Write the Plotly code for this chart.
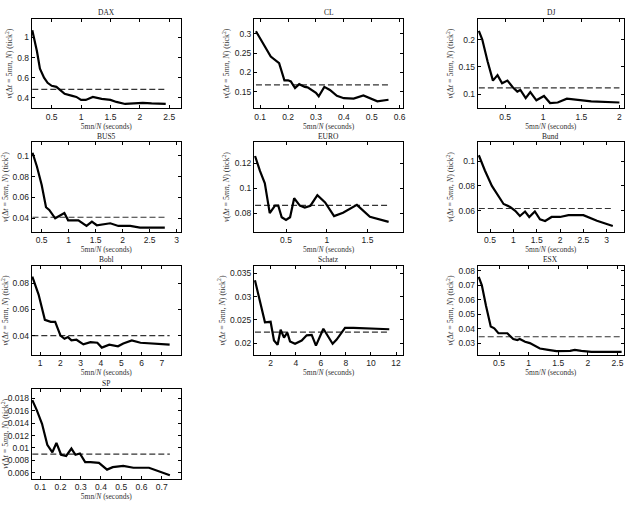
import plotly.graph_objects as go

# ---------------- data ----------------
dax_x = [0.17, 0.25, 0.30, 0.37, 0.43, 0.50, 0.58, 0.62, 0.72, 0.85, 0.92, 1.00, 1.08, 1.20, 1.35, 1.50, 1.60, 1.75, 1.90, 2.05, 2.20, 2.44]
dax_y = [1.07, 0.86, 0.69, 0.60, 0.55, 0.52, 0.51, 0.49, 0.44, 0.42, 0.41, 0.38, 0.38, 0.41, 0.39, 0.38, 0.36, 0.34, 0.345, 0.35, 0.345, 0.34]
dax_ref = 0.485

cl_x = [0.085, 0.10, 0.12, 0.138, 0.168, 0.187, 0.20, 0.21, 0.225, 0.24, 0.26, 0.27, 0.30, 0.31, 0.33, 0.35, 0.375, 0.40, 0.435, 0.47, 0.52, 0.56]
cl_y = [0.306, 0.287, 0.26, 0.241, 0.224, 0.18, 0.18, 0.177, 0.16, 0.17, 0.163, 0.162, 0.148, 0.139, 0.163, 0.155, 0.14, 0.134, 0.133, 0.141, 0.126, 0.13]
cl_ref = 0.168

dj_x = [0.155, 0.20, 0.27, 0.34, 0.40, 0.46, 0.53, 0.60, 0.66, 0.70, 0.77, 0.83, 0.91, 1.01, 1.09, 1.19, 1.31, 1.46, 1.63, 2.00]
dj_y = [0.216, 0.20, 0.16, 0.125, 0.135, 0.12, 0.125, 0.113, 0.105, 0.108, 0.093, 0.104, 0.089, 0.097, 0.084, 0.085, 0.092, 0.09, 0.087, 0.085]
dj_ref = 0.1116

bus5_x = [0.33, 0.41, 0.50, 0.58, 0.64, 0.75, 0.84, 0.92, 0.99, 1.10, 1.18, 1.33, 1.43, 1.52, 1.64, 1.77, 1.92, 2.14, 2.32, 2.50, 2.78]
bus5_y = [0.103, 0.09, 0.072, 0.0506, 0.048, 0.040, 0.0426, 0.045, 0.038, 0.0384, 0.038, 0.0326, 0.0368, 0.0333, 0.0342, 0.0352, 0.0326, 0.0326, 0.031, 0.031, 0.031]
bus5_ref = 0.041

euro_x = [0.12, 0.18, 0.24, 0.30, 0.365, 0.405, 0.447, 0.50, 0.55, 0.60, 0.67, 0.73, 0.80, 0.885, 0.98, 1.09, 1.20, 1.37, 1.53, 1.76]
euro_y = [0.126, 0.114, 0.104, 0.080, 0.086, 0.086, 0.0767, 0.0745, 0.0767, 0.092, 0.086, 0.0845, 0.086, 0.0945, 0.0887, 0.0776, 0.0804, 0.0867, 0.077, 0.073]
euro_ref = 0.0863

bund_x = [0.26, 0.39, 0.54, 0.68, 0.79, 0.93, 1.04, 1.14, 1.25, 1.34, 1.46, 1.57, 1.68, 1.82, 2.00, 2.18, 2.50, 2.79, 3.13]
bund_y = [0.1046, 0.0924, 0.080, 0.0722, 0.0655, 0.0632, 0.060, 0.0559, 0.0595, 0.0551, 0.0595, 0.0532, 0.0519, 0.0551, 0.0551, 0.0565, 0.0565, 0.052, 0.0478]
bund_ref = 0.0619

bobl_x = [0.61, 0.92, 1.23, 1.52, 1.74, 1.86, 2.00, 2.20, 2.37, 2.54, 2.79, 3.13, 3.48, 3.82, 4.04, 4.41, 4.84, 5.10, 5.52, 5.95, 6.46, 7.39]
bobl_y = [0.085, 0.0713, 0.052, 0.0505, 0.0505, 0.045, 0.040, 0.0375, 0.0388, 0.0363, 0.0368, 0.0333, 0.035, 0.0345, 0.0308, 0.033, 0.0318, 0.034, 0.0363, 0.0345, 0.0338, 0.033]
bobl_ref = 0.040

schatz_x = [0.74, 1.54, 1.99, 2.26, 2.55, 2.79, 3.06, 3.32, 3.54, 3.94, 4.47, 4.87, 5.27, 5.61, 6.20, 6.94, 7.26, 7.93, 8.60, 11.46]
schatz_y = [0.0335, 0.0245, 0.0246, 0.0206, 0.0197, 0.0229, 0.0212, 0.0223, 0.0204, 0.0199, 0.0206, 0.0217, 0.0218, 0.0195, 0.0231, 0.0199, 0.0208, 0.0233, 0.0233, 0.023]
schatz_ref = 0.0224

esx_x = [0.157, 0.21, 0.28, 0.32, 0.36, 0.42, 0.49, 0.60, 0.64, 0.74, 0.81, 0.85, 0.94, 1.02, 1.11, 1.19, 1.33, 1.47, 1.70, 1.78, 1.89, 2.06, 2.57]
esx_y = [0.0758, 0.070, 0.056, 0.048, 0.0416, 0.0404, 0.037, 0.037, 0.037, 0.033, 0.0323, 0.033, 0.0312, 0.0302, 0.0284, 0.0265, 0.0256, 0.0247, 0.0249, 0.0256, 0.0249, 0.0242, 0.0242]
esx_ref = 0.0346

sp_x = [0.061, 0.083, 0.109, 0.135, 0.16, 0.18, 0.203, 0.228, 0.254, 0.274, 0.296, 0.322, 0.348, 0.39, 0.43, 0.458, 0.51, 0.56, 0.637, 0.74]
sp_y = [0.0177, 0.0161, 0.0139, 0.0105, 0.0093, 0.0108, 0.0089, 0.0087, 0.0099, 0.0089, 0.0091, 0.0077, 0.0077, 0.0076, 0.0065, 0.0069, 0.0071, 0.0068, 0.0068, 0.0056]
sp_ref = 0.009

titles = ["DAX", "CL", "DJ", "BUS5", "EURO", "Bund", "Bobl", "Schatz", "ESX", "SP"]
series_x = [dax_x, cl_x, dj_x, bus5_x, euro_x, bund_x, bobl_x, schatz_x, esx_x, sp_x]
series_y = [dax_y, cl_y, dj_y, bus5_y, euro_y, bund_y, bobl_y, schatz_y, esx_y, sp_y]
series_ref = [dax_ref, cl_ref, dj_ref, bus5_ref, euro_ref, bund_ref, bobl_ref, schatz_ref, esx_ref, sp_ref]

# tick values shown in the reference
x_ticks = [
    [0.5, 1, 1.5, 2, 2.5],
    [0.1, 0.2, 0.3, 0.4, 0.5, 0.6],
    [0.5, 1, 1.5, 2],
    [0.5, 1, 1.5, 2, 2.5, 3],
    [0.5, 1, 1.5],
    [0.5, 1, 1.5, 2, 2.5, 3],
    [1, 2, 3, 4, 5, 6, 7],
    [2, 4, 6, 8, 10, 12],
    [0.5, 1, 1.5, 2, 2.5],
    [0.1, 0.2, 0.3, 0.4, 0.5, 0.6, 0.7],
]
y_ticks = [
    [0.4, 0.6, 0.8, 1],
    [0.15, 0.2, 0.25, 0.3],
    [0.1, 0.15, 0.2],
    [0.04, 0.06, 0.08, 0.1],
    [0.08, 0.1, 0.12],
    [0.06, 0.08, 0.1],
    [0.04, 0.06, 0.08],
    [0.02, 0.025, 0.03, 0.035],
    [0.03, 0.04, 0.05, 0.06, 0.07, 0.08],
    [0.006, 0.008, 0.01, 0.012, 0.014, 0.016, 0.018],
]

# ---------------- layout config ----------------
W, H = 628, 511
x_ranges = [[0.16, 2.70], [0.078, 0.613], [0.14, 2.06], [0.315, 3.08], [0.107, 1.94],
            [0.236, 3.37], [0.58, 7.95], [0.665, 12.58], [0.14, 2.61], [0.058, 0.795]]
y_ranges = [[0.297, 1.184], [0.108, 0.338], [0.0744, 0.238], [0.027, 0.113], [0.065, 0.137],
            [0.0432, 0.115], [0.025, 0.0933], [0.01745, 0.0366], [0.0219, 0.0835], [0.00507, 0.0195]]

col_left = [31.7, 254.0, 477.7]
col_right = [181.0, 403.3, 624.0]
row_top = [18.8, 142.3, 265.7, 389.0]
box_h = 89.5

serif = "Liberation Serif"
sans = "Liberation Sans"
ylab = "<i>v</i>(Δ<i>t</i> = 5<i>mn</i>, <i>N</i>) (tick<sup>2</sup>)"
xlab = "5mn/<i>N</i> (seconds)"

fig = go.Figure()
layout = dict(width=W, height=H, margin=dict(l=0, r=0, t=0, b=0),
              paper_bgcolor="white", plot_bgcolor="white", showlegend=False)
annotations = []

for i in range(len(titles)):
    r, c = divmod(i, 3)
    k = "" if i == 0 else str(i + 1)
    x0 = col_left[c] / W
    x1 = col_right[c] / W
    y1 = 1 - row_top[r] / H
    y0 = 1 - (row_top[r] + box_h) / H
    xs, ys = series_x[i], series_y[i]
    fig.add_trace(go.Scatter(x=[xs[0], xs[-1]], y=[series_ref[i]] * 2, mode="lines",
                             line=dict(color="#333333", width=1.2, dash="6px,3px"),
                             xaxis="x" + k, yaxis="y" + k, hoverinfo="skip"))
    fig.add_trace(go.Scatter(x=xs, y=ys, mode="lines",
                             line=dict(color="black", width=2.2),
                             xaxis="x" + k, yaxis="y" + k))
    common = dict(showline=True, linecolor="black", linewidth=1, mirror="ticks",
                  ticks="inside", ticklen=3, tickcolor="black", showgrid=False,
                  zeroline=False, tickfont=dict(family=sans, size=8.5, color="#222"),
                  automargin=False)
    layout["xaxis" + k] = dict(common, domain=[x0, x1], range=x_ranges[i],
                               tickmode="array", tickvals=x_ticks[i], anchor="y" + k,
                               title=dict(text=xlab, standoff=0,
                                          font=dict(family=serif, size=7.5, color="#333")))
    layout["yaxis" + k] = dict(common, domain=[y0, y1], range=y_ranges[i],
                               tickmode="array", tickvals=y_ticks[i], anchor="x" + k,
                               title=dict(text=ylab, standoff=3,
                                          font=dict(family=serif, size=8, color="#333")))
    annotations.append(dict(text=titles[i], x=(x0 + x1) / 2, y=y1 + 0.5 / H,
                            xref="paper", yref="paper", xanchor="center", yanchor="bottom",
                            showarrow=False, borderpad=0,
                            font=dict(family=serif, size=7.5, color="#222")))

layout["annotations"] = annotations
fig.update_layout(**layout)
fig.write_html("out.html")
